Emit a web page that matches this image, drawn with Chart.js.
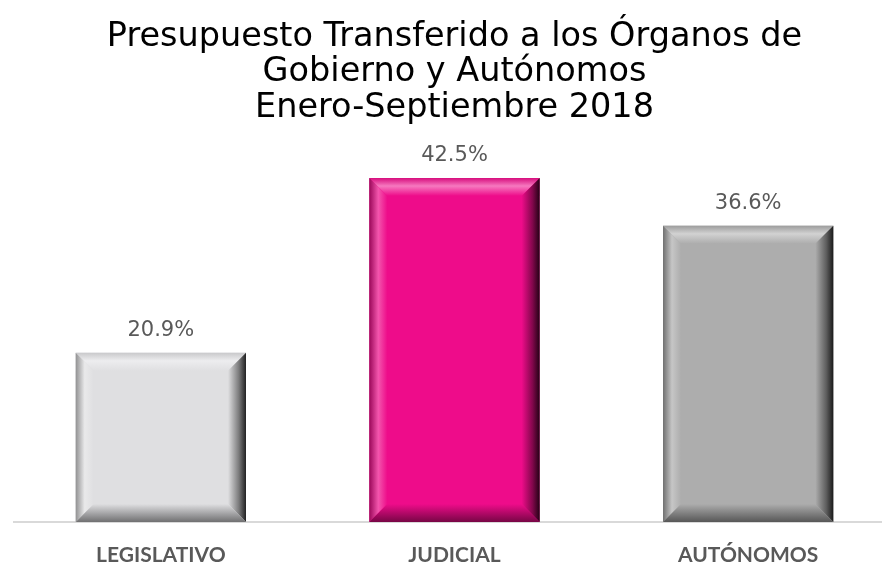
<!DOCTYPE html>
<html>
<head>
<meta charset="utf-8">
<script src="https://cdn.jsdelivr.net/npm/chart.js@4.4.0/dist/chart.umd.min.js"></script>
<style>
  html, body { margin: 0; padding: 0; background: #fff; overflow: hidden; }
  #wrap { width: 900px; height: 565px; }
</style>
</head>
<body>
<div id="wrap"><canvas id="presupuestoChart" width="900" height="565"></canvas></div>
<script>
  // datos del gráfico
  var categorias = ["LEGISLATIVO", "JUDICIAL", "AUTÓNOMOS"];
  var porcentajes = [20.9, 42.5, 36.6];
  var coloresBarras = ["#dfdfe1", "#ee0c8a", "#adadad"];
  var titulo = ["Presupuesto Transferido a los Órganos de", "Gobierno y Autónomos", "Enero-Septiembre 2018"];

  // mezcla un color con blanco (t>0) o negro (t<0)
  function shade(hex, t) {
    var n = parseInt(hex.slice(1), 16);
    var r = (n >> 16) & 255, g = (n >> 8) & 255, b = n & 255;
    var target = t > 0 ? 255 : 0, k = Math.abs(t);
    r = Math.round(r + (target - r) * k);
    g = Math.round(g + (target - g) * k);
    b = Math.round(b + (target - b) * k);
    return "rgb(" + r + "," + g + "," + b + ")";
  }

  // efecto biselado sobre cada barra + etiqueta de valor
  var biselPlugin = {
    id: 'bisel',
    afterDatasetsDraw: function(chart) {
      var ctx = chart.ctx;
      var meta = chart.getDatasetMeta(0);
      meta.data.forEach(function(bar, i) {
        var c = coloresBarras[i];
        var left = bar.x - bar.width / 2, right = bar.x + bar.width / 2;
        var top = bar.y, bottom = bar.base;
        var s = 18;
        ctx.save();
        // borde superior
        var gTop = ctx.createLinearGradient(0, top, 0, top + s);
        gTop.addColorStop(0, shade(c, -0.1));
        gTop.addColorStop(0.45, shade(c, 0.45));
        gTop.addColorStop(1, c);
        ctx.fillStyle = gTop;
        ctx.beginPath();
        ctx.moveTo(left, top); ctx.lineTo(right, top);
        ctx.lineTo(right - s, top + s); ctx.lineTo(left + s, top + s);
        ctx.closePath(); ctx.fill();
        // borde izquierdo
        var gLeft = ctx.createLinearGradient(left, 0, left + s, 0);
        gLeft.addColorStop(0, shade(c, -0.35));
        gLeft.addColorStop(0.5, shade(c, 0.3));
        gLeft.addColorStop(1, c);
        ctx.fillStyle = gLeft;
        ctx.beginPath();
        ctx.moveTo(left, top); ctx.lineTo(left + s, top + s);
        ctx.lineTo(left + s, bottom - s); ctx.lineTo(left, bottom);
        ctx.closePath(); ctx.fill();
        // borde derecho
        var gRight = ctx.createLinearGradient(right - s, 0, right, 0);
        gRight.addColorStop(0, c);
        gRight.addColorStop(0.6, shade(c, -0.45));
        gRight.addColorStop(1, shade(c, -0.85));
        ctx.fillStyle = gRight;
        ctx.beginPath();
        ctx.moveTo(right, top); ctx.lineTo(right, bottom);
        ctx.lineTo(right - s, bottom - s); ctx.lineTo(right - s, top + s);
        ctx.closePath(); ctx.fill();
        // borde inferior
        var gBot = ctx.createLinearGradient(0, bottom - s, 0, bottom);
        gBot.addColorStop(0, c);
        gBot.addColorStop(0.6, shade(c, -0.3));
        gBot.addColorStop(1, shade(c, -0.5));
        ctx.fillStyle = gBot;
        ctx.beginPath();
        ctx.moveTo(left, bottom); ctx.lineTo(right, bottom);
        ctx.lineTo(right - s, bottom - s); ctx.lineTo(left + s, bottom - s);
        ctx.closePath(); ctx.fill();
        // etiqueta de valor
        ctx.fillStyle = "#595959";
        ctx.font = "21px 'DejaVu Sans', sans-serif";
        ctx.textAlign = "center";
        ctx.textBaseline = "bottom";
        ctx.fillText(porcentajes[i].toFixed(1) + "%", bar.x, top - 12);
        ctx.restore();
      });
    }
  };

  var ctxPresupuesto = document.getElementById("presupuestoChart").getContext("2d");

  var myBarChart = new Chart(ctxPresupuesto, {
    type: 'bar',
    data: {
      labels: categorias,
      datasets: [{
        data: porcentajes,
        backgroundColor: coloresBarras,
        borderWidth: 0,
        categoryPercentage: 1,
        barPercentage: 0.58
      }]
    },
    options: {
      responsive: false,
      animation: false,
      layout: { padding: { left: 14, right: 5, top: 0, bottom: 0 } },
      plugins: {
        legend: { display: false },
        tooltip: { enabled: false },
        title: {
          display: true,
          text: titulo,
          color: "#000",
          font: { family: "'DejaVu Sans', sans-serif", size: 33.5, weight: 'normal', lineHeight: 1.07 },
          padding: { top: 19, bottom: 6 }
        }
      },
      scales: {
        y: {
          display: false,
          min: 0,
          max: 48.1
        },
        x: {
          grid: { display: false },
          border: { display: true, color: "#d9d9d9", width: 2 },
          afterFit: function(scale) { scale.height = 43; },
          ticks: {
            color: "#595959",
            padding: 13,
            font: { family: "Lato, sans-serif", size: 21, weight: 'bold' }
          }
        }
      }
    },
    plugins: [biselPlugin]
  });
</script>
</body>
</html>
